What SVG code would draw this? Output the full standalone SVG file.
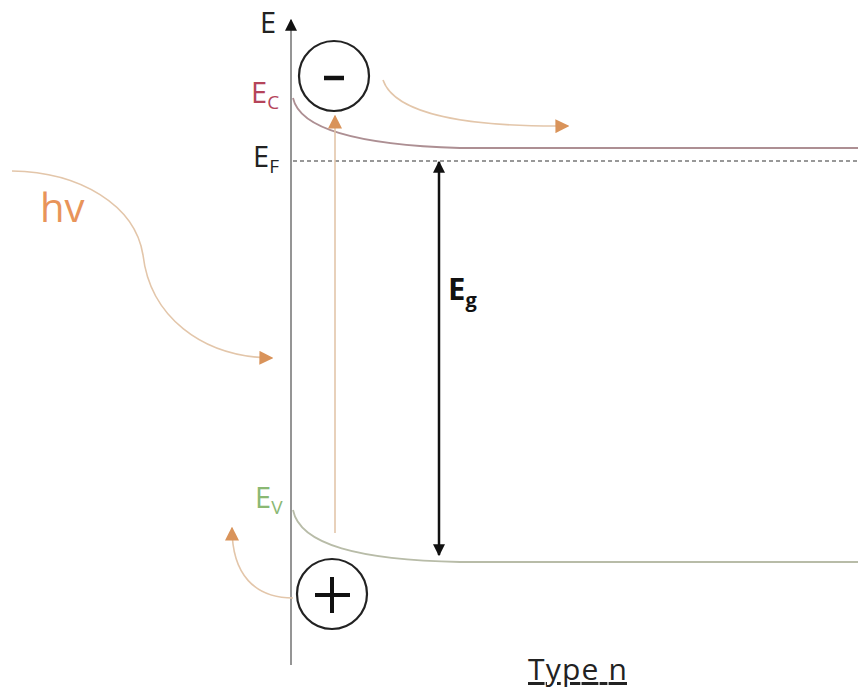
<svg xmlns="http://www.w3.org/2000/svg" width="858" height="690" viewBox="0 0 858 690">
<style>
text{font-family:"Open Sans","Liberation Sans",sans-serif;}
.lbl{font-size:29px;fill:#222;}
.sub{font-size:19px;}
.orange{fill:none;stroke:#e3c6aa;stroke-width:1.6;}
.circ{fill:#fff;stroke:#222;stroke-width:2.2;}
</style>
<defs>
<marker id="ao" viewBox="0 0 10 10" refX="9" refY="5" markerWidth="14" markerHeight="14" markerUnits="userSpaceOnUse" orient="auto"><path d="M0,0 L10,5 L0,10 Z" fill="#d9935a"/></marker>
<marker id="ab" viewBox="0 0 10 10" refX="9" refY="5" markerWidth="12" markerHeight="12" markerUnits="userSpaceOnUse" orient="auto-start-reverse"><path d="M0,0 L10,5 L0,10 Z" fill="#111"/></marker>
<marker id="ak" viewBox="0 0 10 10" refX="9" refY="5" markerWidth="12" markerHeight="12" markerUnits="userSpaceOnUse" orient="auto"><path d="M0,0 L10,5 L0,10 Z" fill="#111"/></marker>
</defs>
<rect width="858" height="690" fill="#fff"/>
<g id="connectors">
<line id="axis" x1="291" y1="665" x2="291" y2="20" stroke="#8a8a8a" stroke-width="1.8" marker-end="url(#ak)"/>
<path id="ec-band" d="M293,98 C300,130 360,145 460,148 L858,148" fill="none" stroke="#ad8f93" stroke-width="1.8"/>
<line id="ef-line" x1="293" y1="161" x2="858" y2="161" stroke="#333" stroke-width="1.2" stroke-dasharray="4,3"/>
<path id="ev-band" d="M293,510 C300,545 360,560 460,562 L858,562" fill="none" stroke="#b8bca8" stroke-width="1.8"/>
<line id="eg-arrow" x1="439" y1="555" x2="439" y2="162" stroke="#111" stroke-width="2.5" marker-start="url(#ab)" marker-end="url(#ab)"/>
<line id="excite" x1="335" y1="533" x2="335" y2="116" class="orange" marker-end="url(#ao)"/>
<path id="electron-flow" d="M383,80 C395,115 470,127 568,126" class="orange" marker-end="url(#ao)"/>
<path id="hole-flow" d="M293,598 C255,598 232,575 232,528" class="orange" marker-end="url(#ao)"/>
<path id="photon" d="M12,171 C80,172 135,205 143,255 C150,315 200,357 272,358" class="orange" marker-end="url(#ao)"/>
</g>
<g id="minus">
<circle cx="334" cy="76" r="35" class="circ"/>
<line x1="324" y1="78" x2="344" y2="78" stroke="#111" stroke-width="4.5"/>
</g>
<g id="plus">
<circle cx="332" cy="594" r="35" class="circ"/>
<line x1="315" y1="595" x2="350" y2="595" stroke="#111" stroke-width="4"/>
<line x1="332" y1="577" x2="332" y2="613" stroke="#111" stroke-width="4"/>
</g>
<g id="labels">
<text x="260" y="33" class="lbl">E</text>
<text x="251" y="103" class="lbl" style="fill:#b5445a">E<tspan class="sub" dy="6">C</tspan></text>
<text x="253" y="167" class="lbl">E<tspan class="sub" dy="6">F</tspan></text>
<text x="255" y="508" class="lbl" style="fill:#8ab873">E<tspan class="sub" dy="6">V</tspan></text>
<text x="448" y="300" style="font-size:31px;font-weight:bold;fill:#111">E<tspan dy="7" style="font-size:20px">g</tspan></text>
<text x="40" y="222" style="font-size:40px;fill:#e8945a">hv</text>
<text x="528" y="680" textLength="99" style="font-size:30px;fill:#222;text-decoration:underline">Type n</text>
</g>
</svg>
